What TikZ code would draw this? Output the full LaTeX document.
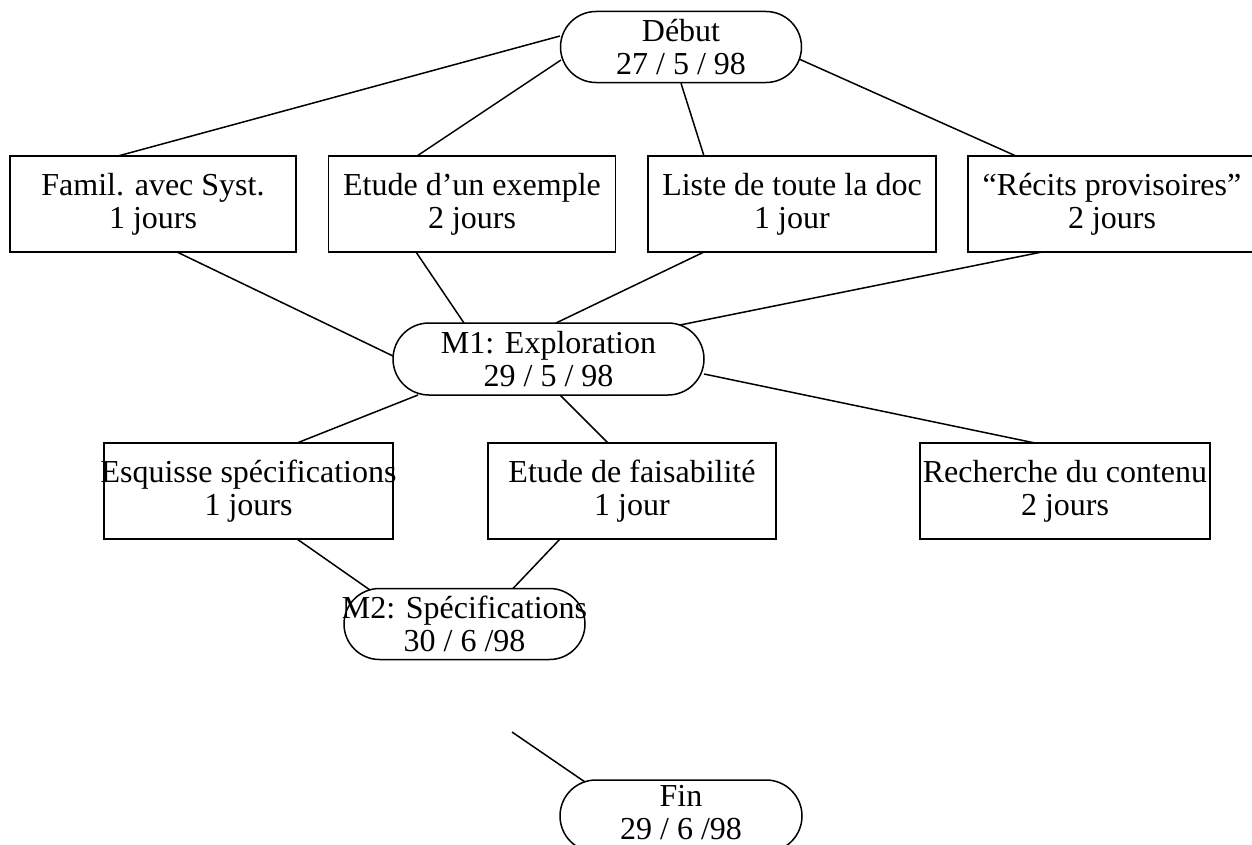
\documentclass[tikz,border=0pt]{standalone}
\usepackage{fontspec}
\setmainfont{Liberation Serif}
\usetikzlibrary{calc}
\newcommand{\zl}[1]{\makebox[0pt]{#1}}
\begin{document}
\begin{tikzpicture}[x=1bp,y=-1bp,
  every node/.style={font=\fontsize{32bp}{33bp}\selectfont},
  task/.style={draw, line width=1.5bp, rectangle, minimum width=288bp, minimum height=96bp, inner sep=0pt, align=center},
  milestone/.style={draw, line width=1.5bp, rectangle, rounded corners=35.5bp, minimum width=241bp, minimum height=71bp, inner sep=0pt, align=center},
  link/.style={line width=1.5bp}]
\useasboundingbox (0,0) rectangle (1252,845);
% milestones
\node[milestone] (debut) at (681,47) {\zl{Début}\\\zl{27 / 5 / 98}};
\node[milestone, minimum width=311bp, minimum height=72bp, rounded corners=36bp] (m1) at (548.5,359) {\zl{M1: Exploration}\\\zl{29 / 5 / 98}};
\node[milestone] (m2) at (464.5,624) {\zl{M2: Spécifications}\\\zl{30 / 6 /98}};
\node[milestone, minimum width=242bp, minimum height=72bp, rounded corners=36bp, text depth=8bp] (fin) at (681,816) {\zl{Fin}\\\zl{29 / 6 /98}};
% tasks row 1
\node[task, minimum width=286bp] (famil) at (153,204) {\zl{Famil. avec Syst.}\\\zl{1 jours}};
\node[task, minimum width=287bp] (etude) at (472,204) {\zl{Etude d’un exemple}\\\zl{2 jours}};
\node[task] (liste) at (792,204) {\zl{Liste de toute la doc}\\\zl{1 jour}};
\node[task] (recits) at (1112,204) {\zl{“Récits provisoires”}\\\zl{2 jours}};
% tasks row 2
\node[task, minimum width=289bp] (esq) at (248.5,491) {\zl{Esquisse spécifications}\\\zl{1 jours}};
\node[task] (fais) at (632,491) {\zl{Etude de faisabilité}\\\zl{1 jour}};
\node[task, minimum width=290bp] (rech) at (1065,491) {\zl{Recherche du contenu}\\\zl{2 jours}};
% connectors
\draw[link] ($(debut)+(-121,-11)$) -- ($(famil)+(-35,-48)$);
\draw[link] ($(debut)+(-120,13)$) -- ($(etude)+(-55,-48)$);
\draw[link] (debut.south) -- ($(liste)+(-88,-48)$);
\draw[link] ($(debut)+(118,12)$) -- ($(recits)+(-96,-48)$);
\draw[link] ($(famil)+(24,48)$) -- ($(m1)+(-155.5,-3)$);
\draw[link] ($(etude)+(-56,48)$) -- ($(m1)+(-84.5,-36)$);
\draw[link] ($(liste)+(-88,48)$) -- ($(m1)+(7.5,-36)$);
\draw[link] ($(recits)+(-70,48)$) -- ($(m1)+(131.5,-34)$);
\draw[link] ($(m1)+(-130.5,36)$) -- ($(esq)+(48.5,-48)$);
\draw[link] ($(m1)+(11.5,36)$) -- ($(fais)+(-24,-48)$);
\draw[link] ($(m1)+(155.5,15)$) -- ($(rech)+(-30,-48)$);
\draw[link] ($(esq)+(48.5,48)$) -- ($(m2)+(-94.5,-34)$);
\draw[link] ($(fais)+(-72,48)$) -- ($(m2)+(48.5,-35.5)$);
\coordinate (free) at (512,732);
\draw[link] (free) -- ($(fin)+(-96,-34)$);
\end{tikzpicture}
\end{document}
